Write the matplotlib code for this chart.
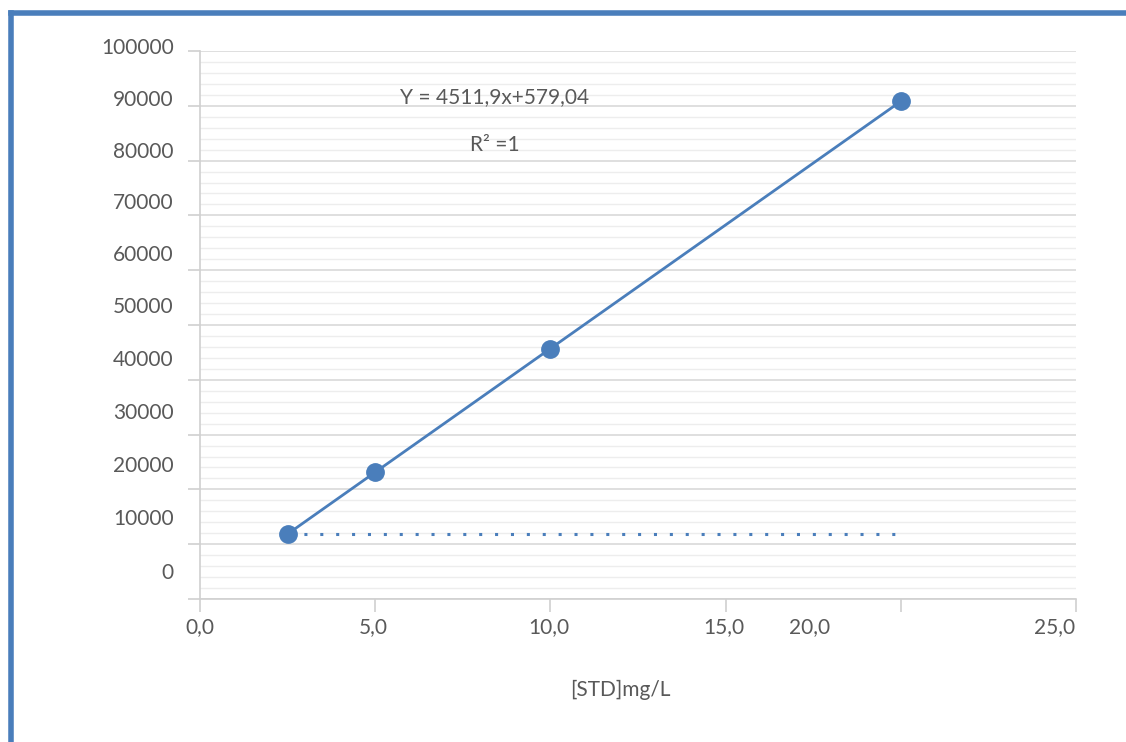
import numpy as np
import matplotlib.pyplot as plt
from matplotlib.lines import Line2D
from matplotlib.ticker import MultipleLocator

# calibration standards
conc = [2.5, 5.0, 10.0, 20.0]
area = [11859, 23139, 45698, 90817]
baseline_x = [2.5, 20.0]
baseline_y = [11859, 11859]

x_ticks = [0, 5, 10, 15, 20, 25]
x_labels = ['0,0', '5,0', '10,0', '15,0', '20,0', '25,0']
x_label_pos = [0.0, 4.95, 9.95, 14.95, 17.4, 24.4]
y_ticks = list(range(0, 100001, 10000))
y_labels = [str(v) for v in y_ticks]
y_label_pos = [4800, 14600, 24200, 33900, 43600, 53300, 62800, 72300, 81600, 91000, 100500]

equation = 'Y = 4511,9x+579,04'
r2_text = 'R² =1'

blue = '#4a7ebb'
grey_txt = '#595959'
plt.rcParams['font.family'] = ['Lato', 'DejaVu Sans']
fs = 15

fig = plt.figure(figsize=(11.26, 7.42), dpi=100)
ax = fig.add_axes([200 / 1126, 1 - 599 / 742, 876 / 1126, 548 / 742])

ax.plot(conc, area, color=blue, lw=2.0, marker='o', ms=12.5, zorder=3)
ax.plot(baseline_x, baseline_y, color=blue, lw=2.2, ls=(0, (1, 4.2)), zorder=2)

ax.set_xlim(0, 25)
ax.set_ylim(0, 100000)
ax.set_xticks(x_ticks)
ax.set_xticklabels([])
ax.set_yticks(y_ticks)
ax.set_yticklabels([])
ax.yaxis.set_minor_locator(MultipleLocator(2000))

ax.grid(axis='y', which='major', color='#d9d9d9', lw=1.2)
ax.grid(axis='y', which='minor', color='#ededed', lw=1.0)
ax.set_axisbelow(True)

for s in ['top', 'right']:
    ax.spines[s].set_visible(False)
for s in ['left', 'bottom']:
    ax.spines[s].set_color('#d0d0d0')
    ax.spines[s].set_linewidth(1.2)
ax.tick_params(axis='both', which='major', color='#d0d0d0', length=9, width=1.2)
ax.tick_params(axis='y', which='minor', length=0)

for xp, lab in zip(x_label_pos, x_labels):
    ax.text(xp, -0.052, lab, transform=ax.get_xaxis_transform(), ha='center', va='center',
            fontsize=fs, color=grey_txt)
for yp, lab in zip(y_label_pos, y_labels):
    ax.text(-0.03, yp, lab, transform=ax.get_yaxis_transform(), ha='right', va='center',
            fontsize=fs, color=grey_txt)

ax.text(5.7, 91600, equation, fontsize=fs, color=grey_txt, ha='left', va='center')
ax.text(8.4, 82900, r2_text, fontsize=fs, color=grey_txt, ha='center', va='center')

fig.text(620 / 1126, 1 - 690 / 742, '[STD]mg/L', fontsize=fs, color=grey_txt, ha='center', va='center')

# chart frame (top and left edge visible in the crop)
fig.add_artist(Line2D([11 / 1126, 11 / 1126], [0, 1 - 13 / 742], transform=fig.transFigure,
                      color=blue, lw=4, solid_capstyle='projecting'))
fig.add_artist(Line2D([11 / 1126, 1], [1 - 13 / 742, 1 - 13 / 742], transform=fig.transFigure,
                      color=blue, lw=4, solid_capstyle='projecting'))

fig.savefig('out.png', dpi=100)
